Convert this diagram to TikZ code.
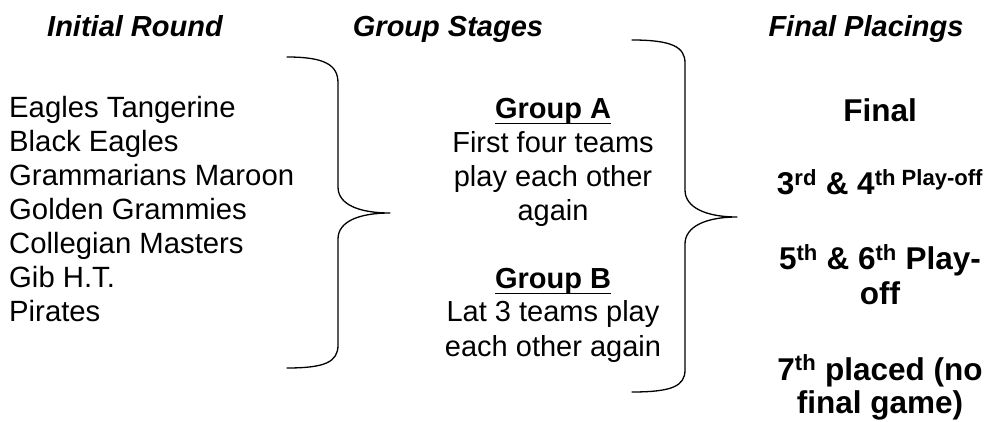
\documentclass[tikz,border=0pt]{standalone}
\usepackage{fontspec}
\setmainfont{Liberation Sans}
\begin{document}
\begin{tikzpicture}[x=1pt,y=-1pt,
  txt/.style={inner sep=0pt,font=\fontsize{29.3}{34}\selectfont},
  head/.style={txt,anchor=base,font=\fontsize{29}{34}\selectfont\bfseries\itshape},
  item/.style={txt,anchor=base west},
  mid/.style={txt,anchor=base,font=\fontsize{29}{34}\selectfont},
  grp/.style={txt,anchor=base,font=\fontsize{29}{34}\selectfont\bfseries},
  fin/.style={txt,anchor=base,font=\fontsize{31.5}{34}\selectfont\bfseries},
  uline/.style={line width=1.8pt},
  brace/.style={line width=1.3pt,line join=round,line cap=round}]
\useasboundingbox (0,0) rectangle (986,422);
% headings
\node[head] (h1) at (135,37) {Initial Round};
\node[head] (h2) at (448,37) {Group Stages};
\node[head] (h3) at (866,37) {Final Placings};
% initial round list
\foreach \t [count=\i] in {Eagles Tangerine,Black Eagles,Grammarians Maroon,Golden Grammies,Collegian Masters,Gib H.T.,Pirates}
  \node[item] (l\i) at (9,{118+34*(\i-1)}) {\t};
% group stages
\node[grp] (ga) at (553,119) {Group A};
\draw[uline] ([yshift=-4.5pt]ga.base west) -- ([yshift=-4.5pt]ga.base east);
\node[mid] (ga1) at (553,153) {First four teams};
\node[mid] (ga2) at (553,187) {play each other};
\node[mid] (ga3) at (553,221) {again};
\node[grp] (gb) at (553,289) {Group B};
\draw[uline] ([yshift=-4.5pt]gb.base west) -- ([yshift=-4.5pt]gb.base east);
\node[mid] (gb1) at (553,322) {Lat 3 teams play};
\node[mid] (gb2) at (553,356) {each other again};
% final placings
\node[fin] (f1) at (880,122) {Final};
\node[fin] (f2) at (880,195) {3\textsuperscript{rd} \& 4\textsuperscript{th Play-off}};
\node[fin] (f3) at (880,270) {5\textsuperscript{th} \& 6\textsuperscript{th} Play-};
\node[fin] (f4) at (880,305) {off};
\node[fin] (f5) at (880,380) {7\textsuperscript{th} placed (no};
\node[fin] (f6) at (880,413) {final game)};
% brace 1
\draw[brace] (287,57) .. controls (325,57) and (338,65) .. (338,83)
  -- (338,187) .. controls (338,205) and (360,213) .. (390,213)
  .. controls (360,213) and (338,221) .. (338,239)
  -- (338,345) .. controls (338,362) and (325,368) .. (287,368);
% brace 2
\draw[brace] (632,40) .. controls (672,40) and (685,47) .. (685,63)
  -- (685,190) .. controls (685,208) and (707,217) .. (737,217)
  .. controls (707,217) and (685,226) .. (685,244)
  -- (685,370) .. controls (685,386) and (672,392) .. (632,392);
\end{tikzpicture}
\end{document}
